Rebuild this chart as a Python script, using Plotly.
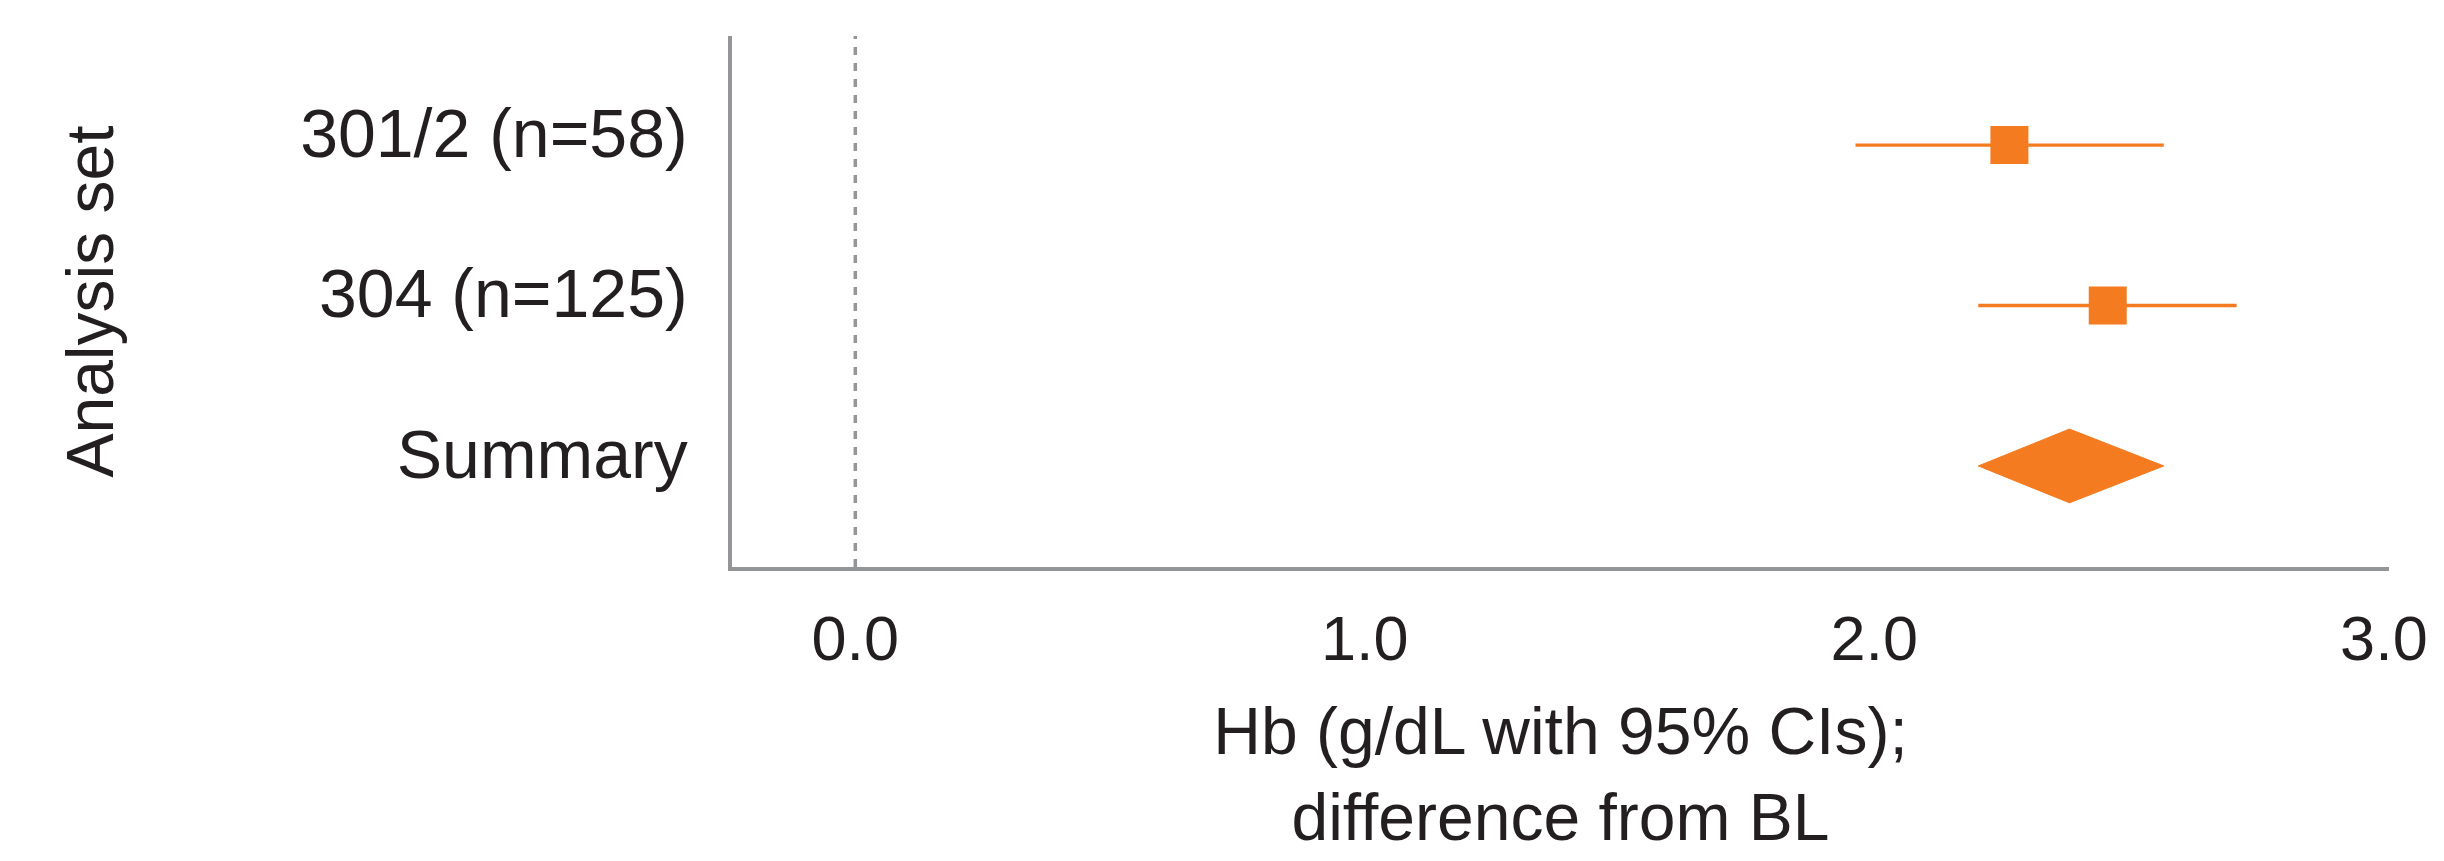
import plotly.graph_objects as go

# ---- data ----
categories = ["301/2 (n=58)", "304 (n=125)", "Summary"]
estimate = [2.265, 2.458, 2.383]
ci_low = [1.963, 2.204, 2.204]
ci_high = [2.568, 2.711, 2.568]
x_ticks = [0.0, 1.0, 2.0, 3.0]
x_tick_labels = ["0.0", "1.0", "2.0", "3.0"]

ORANGE = "#F47B20"
GREY = "#939598"
TEXT = "#231F20"
FONT = "Liberation Sans, Arial, Helvetica, sans-serif"

n = len(categories)
ypos = [n - i for i in range(n)]  # top row highest

fig = go.Figure()

# individual studies: square + CI whisker
study_idx = [0, 1]
fig.add_trace(go.Scatter(
    x=[estimate[i] for i in study_idx],
    y=[ypos[i] for i in study_idx],
    mode="markers",
    marker=dict(symbol="square", size=38, color=ORANGE, line=dict(width=0)),
    error_x=dict(
        type="data", symmetric=False,
        array=[ci_high[i] - estimate[i] for i in study_idx],
        arrayminus=[estimate[i] - ci_low[i] for i in study_idx],
        color=ORANGE, thickness=3.4, width=0,
    ),
    showlegend=False, hoverinfo="skip",
))

# summary diamond
s = 2
half_h = 0.23
fig.add_trace(go.Scatter(
    x=[ci_low[s], estimate[s], ci_high[s], estimate[s], ci_low[s]],
    y=[ypos[s], ypos[s] + half_h, ypos[s], ypos[s] - half_h, ypos[s]],
    mode="lines", fill="toself", fillcolor=ORANGE,
    line=dict(color=ORANGE, width=1),
    showlegend=False, hoverinfo="skip",
))

# reference line at zero
fig.add_shape(type="line", xref="x", yref="paper", x0=0, x1=0, y0=0, y1=1,
              line=dict(color=GREY, width=3.5, dash="8px,8px"), layer="below")

fig.update_layout(
    width=2444, height=861,
    margin=dict(l=724, r=63, t=28, b=302),
    paper_bgcolor="white", plot_bgcolor="white",
    font=dict(family=FONT, color=TEXT),
    xaxis=dict(
        range=[-0.242, 3.01], automargin=False,
        tickvals=x_ticks, ticktext=x_tick_labels,
        showgrid=False, zeroline=False,
        showline=True, linecolor=GREY, linewidth=4,
        ticks="", tickfont=dict(size=63, color=TEXT),
        ticklabelstandoff=13,
        title=dict(text="Hb (g/dL with 95% CIs);<br>difference from BL",
                   font=dict(size=66, color=TEXT), standoff=37),
    ),
    yaxis=dict(
        range=[0.37, 3.68], automargin=False,
        tickvals=ypos, ticktext=categories,
        showgrid=False, zeroline=False,
        showline=True, linecolor=GREY, linewidth=3.5,
        ticks="", tickfont=dict(size=68, color=TEXT),
        ticklabelstandoff=27, ticklabelshift=-12,
        title=dict(text="Analysis set", font=dict(size=66, color=TEXT), standoff=166),
    ),
)

fig.write_html("out.html")
